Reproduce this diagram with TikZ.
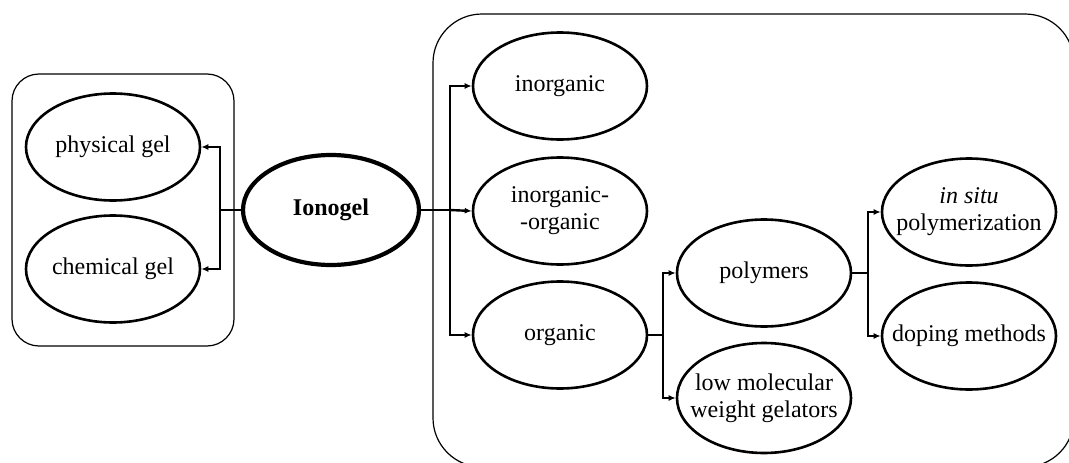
\documentclass[tikz,border=0pt]{standalone}
\usepackage{fontspec}
\setmainfont{Liberation Serif}
\usetikzlibrary{shapes.geometric,arrows.meta}
\begin{document}
\begin{tikzpicture}[x=1pt,y=-1pt,
  el/.style={ellipse,draw,line width=2.6pt,minimum width=174pt,minimum height=107pt,inner xsep=-22pt,inner ysep=-6pt,align=center,font=\fontsize{24}{27}\selectfont},
  grp/.style={draw,line width=1.2pt,rounded corners=#1},
  conn/.style={line width=2.4pt},
  arr/.style={line width=2.4pt,-{Latex[length=7pt,width=6pt]}}
]
\useasboundingbox (0,0) rectangle (1069,463);
\begin{scope}
\clip (0,0) rectangle (1069,463);
\draw[grp=27pt] (12,74) rectangle (234,346);
\draw[grp=49pt] (433,14) rectangle (1074,467);
\end{scope}

\node[el] (phys) at (113,147) {physical gel};
\node[el] (chem) at (113,269) {chemical gel};
\node[el,line width=4.2pt,minimum width=176pt,minimum height=110pt] (ion) at (331,210) {\textbf{Ionogel}};

\node[el] (inorg) at (560,86) {inorganic};
\node[el] (inorgorg) at (560,211) {inorganic-\\-organic};
\node[el] (org) at (560,335) {organic};

\node[el] (poly) at (764,273) {polymers};
\node[el,minimum height=110pt] (low) at (764,398) {low molecular\\weight gelators};

\node[el] (insitu) at (969,212) {\textit{in situ}\\polymerization};
\node[el] (doping) at (969,336) {doping methods};

\coordinate (jl) at (220,210);
\coordinate (jr) at (450,210);
\coordinate (jo) at (663,335);
\coordinate (jp) at (868,273);

\draw[conn] (ion.west) -- (jl);
\draw[arr] (jl) |- (phys.east);
\draw[arr] (jl) |- (chem.east);

\draw[conn] (ion.east) -- (jr);
\draw[arr] (jr) |- (inorg.west);
\draw[arr] (jr) -- (inorgorg.west);
\draw[arr] (jr) |- (org.west);

\draw[conn] (org.east) -- (jo);
\draw[arr] (jo) |- (poly.west);
\draw[arr] (jo) |- (low.west);

\draw[conn] (poly.east) -- (jp);
\draw[arr] (jp) |- (insitu.west);
\draw[arr] (jp) |- (doping.west);
\end{tikzpicture}
\end{document}
